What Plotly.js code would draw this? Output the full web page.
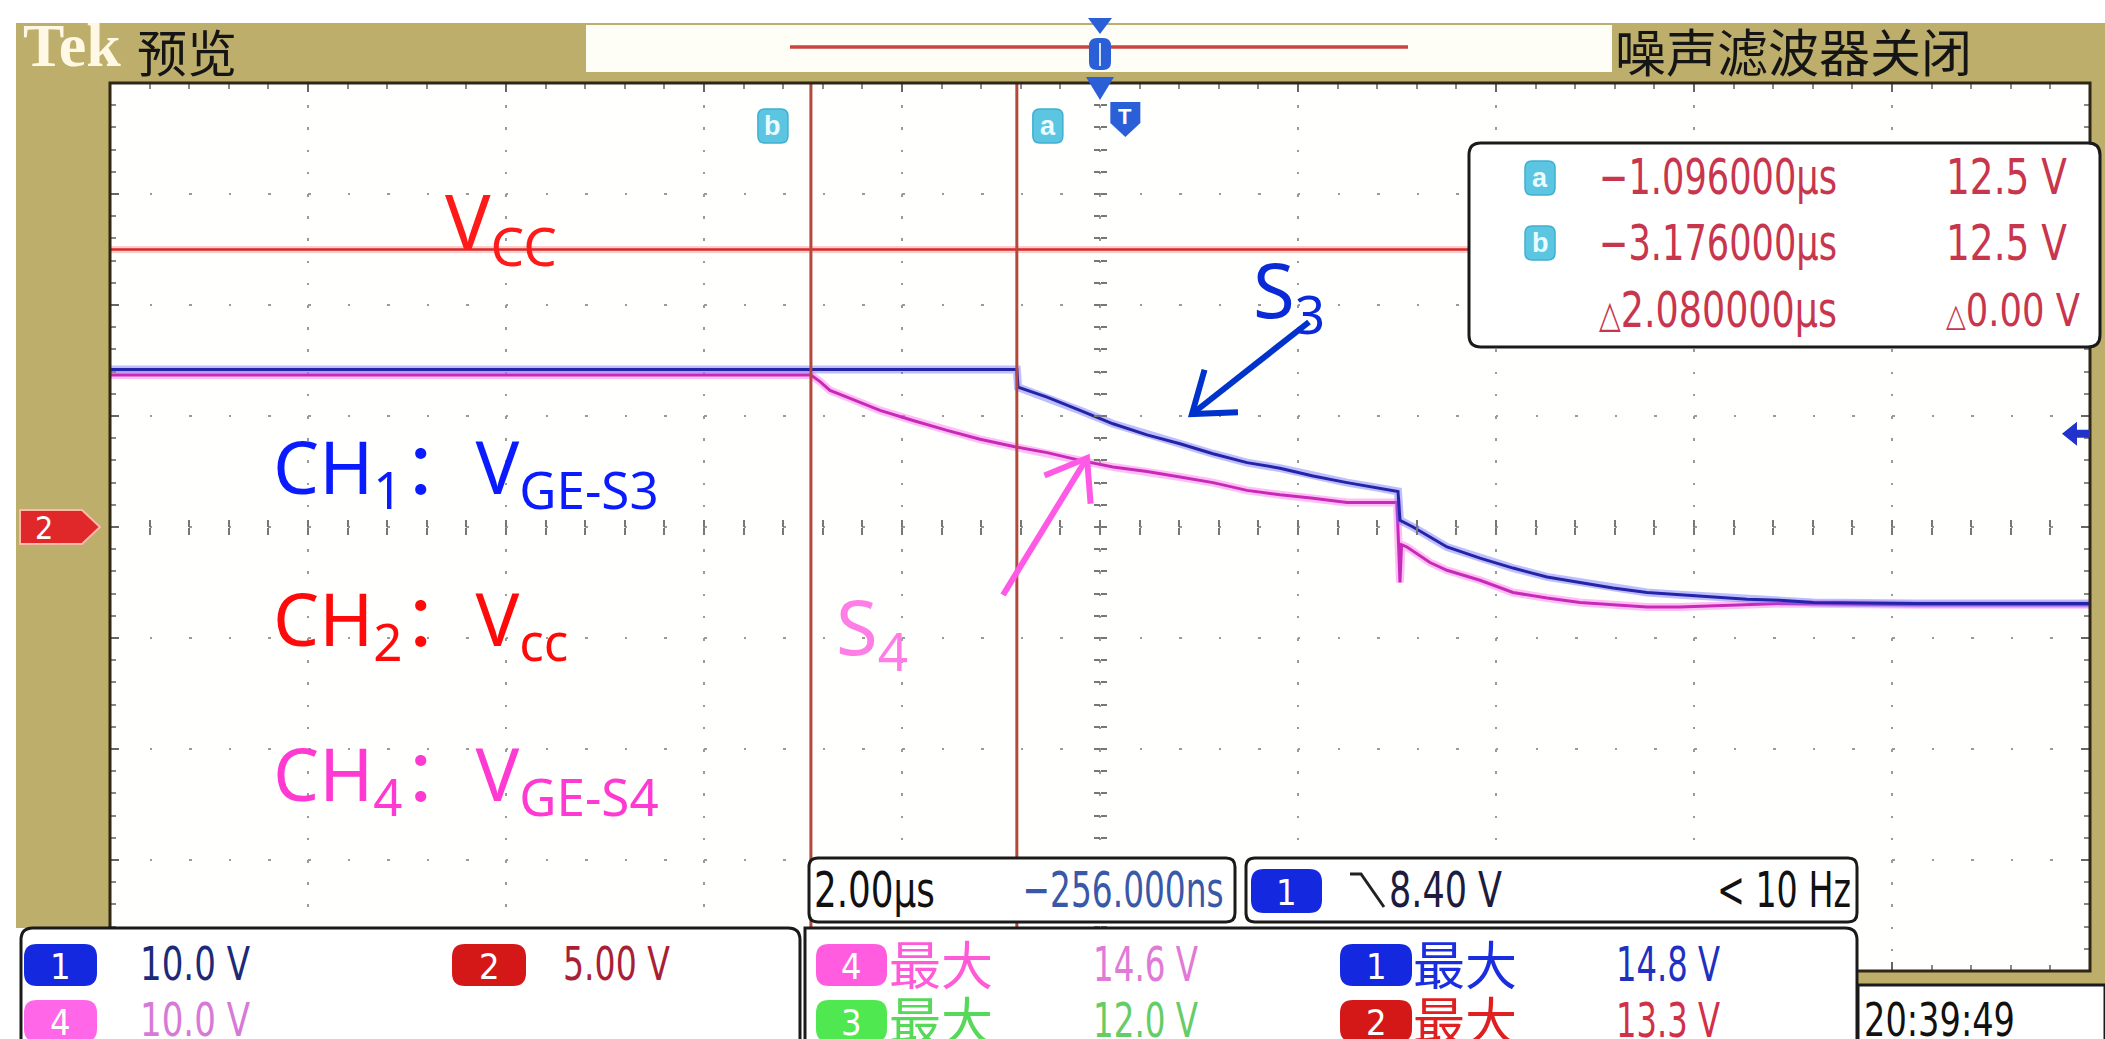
<!DOCTYPE html>
<html><head><meta charset="utf-8">
<script src="https://cdn.plot.ly/plotly-3.0.1.min.js"></script>
<style>html,body{margin:0;padding:0;background:#fff;overflow:hidden}#plot{width:2105px;height:1039px}</style>
</head><body><div id="plot"></div>
<script>
// ================= DATA =================
// time in microseconds, voltage in volts
const ch1Time  = [-10.256, -1.096, -1.084, -0.791, -0.458, -0.125, 0.219, 0.552, 0.885, 1.229, 1.562, 1.896, 2.239, 2.572, 2.754, 2.774, 2.906, 3.249, 3.582, 3.916, 4.259, 4.592, 4.926, 5.269, 5.602, 5.936, 6.279, 6.612, 6.950, 8.000, 9.744];
const ch1Volts = [14.2, 14.2, 12.6, 11.7, 10.5, 9.3, 8.3, 7.5, 6.6, 5.8, 5.3, 4.6, 4.0, 3.5, 3.2, 0.6, 0.0, -1.8, -2.8, -3.7, -4.5, -5.0, -5.5, -5.9, -6.1, -6.3, -6.5, -6.6, -6.8, -6.9, -6.9];

const ch4Time  = [-10.256, -3.176, -3.084, -2.983, -2.812, -2.478, -2.145, -1.801, -1.468, -1.105, -0.791, -0.458, -0.125, 0.219, 0.552, 0.885, 1.229, 1.562, 1.896, 2.239, 2.744, 2.774, 2.790, 2.845, 3.077, 3.249, 3.582, 3.916, 4.259, 4.592, 4.926, 5.269, 5.602, 6.612, 8.000, 9.744];
const ch4Volts = [13.7, 13.7, 13.1, 12.3, 11.7, 10.5, 9.6, 8.7, 7.9, 7.2, 6.7, 6.0, 5.4, 5.0, 4.5, 4.0, 3.3, 2.9, 2.6, 2.2, 2.2, -5.0, -1.6, -1.8, -3.2, -3.9, -4.8, -5.9, -6.4, -6.8, -7.0, -7.2, -7.2, -6.9, -7.0, -7.0];

const ch2Time  = [-10.256, 9.744];
const ch2Volts = [12.5, 12.5];

const voltsPerDiv = {ch1: 10.0, ch2: 5.00, ch4: 10.0};
const timePerDiv = 2.00;          // us
const horizPosition = -0.256;     // us (screen centre)
const cursorTimes = {a: -1.096, b: -3.176};
const triggerLevel = 8.40;        // V on CH1

const cursorRows = [
  {badge: 'a', time: '\u22121.096000\u00b5s', volt: '12.5 V'},
  {badge: 'b', time: '\u22123.176000\u00b5s', volt: '12.5 V'},
  {badge: '',  time: '2.080000\u00b5s', volt: '0.00 V', delta: true}
];
const chanScaleLabels = ['10.0 V', '5.00 V', '10.0 V'];
const measLabels = {m4: '14.6 V', m3: '12.0 V', m1: '14.8 V', m2: '13.3 V'};

// ================= LAYOUT GEOMETRY =================
const W = 2105, H = 1039;
const PL = 110, PR = 2090, PT = 83, PB = 971;
const X0 = horizPosition - 5*timePerDiv, X1 = horizPosition + 5*timePerDiv;
function px(x){ return (x - PL)/(PR - PL); }
function py(y){ return (PB - y)/(PB - PT); }
function P(x,y){ return px(x).toFixed(5)+','+py(y).toFixed(5); }
function tpx(t){ return PL + (t - X0)/(X1 - X0)*(PR - PL); }
function vpy(v, s){ return (PT+PB)/2 - v/s*(PB-PT)/8; }

function rrect(x0,y0,x1,y1,r){
  return `M${P(x0+r,y0)} L${P(x1-r,y0)} Q${P(x1,y0)} ${P(x1,y0+r)} L${P(x1,y1-r)} Q${P(x1,y1)} ${P(x1-r,y1)} L${P(x0+r,y1)} Q${P(x0,y1)} ${P(x0,y1-r)} L${P(x0,y0+r)} Q${P(x0,y0)} ${P(x0+r,y0)} Z`;
}
function poly(pts){ return 'M' + pts.map(p=>P(p[0],p[1])).join(' L') + ' Z'; }
function polyline(pts){ return 'M' + pts.map(p=>P(p[0],p[1])).join(' L'); }

const shapes = [];
function shp(path, fill, lc, lw, layer){
  shapes.push({type:'path', xref:'paper', yref:'paper', path:path, fillcolor:fill||'rgba(0,0,0,0)',
    line:{color:lc||'rgba(0,0,0,0)', width:lw||0}, layer:layer||'above'});
}
const annotations = [];
const narrow = {};
const NARROW = "'Liberation Sans Narrow', 'DejaVu Sans Condensed', 'Liberation Sans', sans-serif";
const CJK = "'Noto Sans CJK SC', sans-serif";
const SANS = "'Noto Sans', 'Noto Sans CJK SC', sans-serif";
function ann(text, x, y, size, color, family, xa, ya, extra){
  annotations.push(Object.assign({xref:'paper', yref:'paper', x:px(x), y:py(y), text:text, showarrow:false,
    xanchor:xa||'left', yanchor:ya||'middle', borderpad:0,
    font:{size:size, color:color, family:family||NARROW}}, extra||{}));
}
// condensed scope text: tw = target width in px
function nann(text, x, y, size, color, xa, tw){
  ann(text, x, y, size, color, NARROW, xa||'left');
  narrow[annotations.length-1] = {tw: tw, xa: xa||'left'};
}

// ---- cursor lines (under boxes) ----
['a','b'].forEach(k=>{
  shapes.push({type:'line', xref:'x', yref:'paper', x0:cursorTimes[k], x1:cursorTimes[k], y0:0, y1:1,
    line:{color:'#b5483c', width:3}, layer:'above'});
});

// ---- tan frame ----
const TAN = '#bdae6b';
shp(poly([[16,23],[2105,23],[2105,83],[16,83]]), TAN);
shp(poly([[16,83],[PL,83],[PL,928],[16,928]]), TAN);
shp(poly([[PR,83],[2105,83],[2105,985],[PR,985]]), TAN);
shp(poly([[1857,PB],[2105,PB],[2105,985],[1857,985]]), TAN);
shp(polyline([[PL,928],[PL,PT],[PR,PT],[PR,PB],[1857,PB]]), null, '#2e2716', 3);

// ---- header ----
shp(poly([[586,25],[1612,25],[1612,72],[586,72]]), '#fffef6');
shp(polyline([[790,47],[1408,47]]), null, '#c8443c', 3.5);
ann('<b>Tek</b>', 22, 45, 62, '#fff8e4', "'Liberation Serif', serif");
ann('预览', 136, 50, 50, '#151515', CJK);
ann('噪声滤波器关闭', 1614, 50, 51, '#151515', CJK);
const BLUEM = '#2a5fd8';
const cx = (PL+PR)/2;
shp(poly([[cx-12,18],[cx+12,18],[cx,34]]), BLUEM);
shp(rrect(cx-11,38,cx+11,70,8), BLUEM);
shp(polyline([[cx,43],[cx,66]]), null, '#cfe0ff', 2);
shp(poly([[cx-14,77],[cx+14,77],[cx,100]]), BLUEM);
const tx = tpx(0);
shp(poly([[tx-15,102],[tx+15,102],[tx+15,123],[tx,137],[tx-15,123]]), BLUEM);
ann('<b>T</b>', tx, 116, 22, '#ffffff', "'Liberation Sans', sans-serif", 'center');
function cbadge(letter, x, y){
  shp(rrect(x-15,y-17,x+15,y+17,7), '#5cc6e2', '#3fb0d0', 1.5);
  ann('<b>'+letter+'</b>', x, y, 27, '#eafcff', "'Liberation Sans', sans-serif", 'center');
}
cbadge('b', tpx(cursorTimes.b)-38, 126);
cbadge('a', tpx(cursorTimes.a)+31, 126);

// ---- CH2 ground marker ----
shp(poly([[20,510],[82,510],[100,527],[82,544],[20,544]]), '#e0282a', '#ffb8a8', 2);
ann('2', 44, 528, 32, '#ffffff', NARROW, 'center');
const ty = vpy(triggerLevel, voltsPerDiv.ch1);
shp(poly([[2062,ty],[2077,ty-12],[2077,ty-4],[PR,ty-4],[PR,ty+4],[2077,ty+4],[2077,ty+12]]), '#2233cc');

// ---- cursor readout box ----
shp(rrect(1469,143,2100,347,12), '#ffffff', '#1a1a1a', 3);
const rowY = [178, 243, 310];
cursorRows.forEach((r,i)=>{
  if (r.badge) cbadge(r.badge, 1540, rowY[i]);
  if (r.delta) {
    nann('<span style="font-size:38px">\u25b3</span>' + r.time, 1598, rowY[i], 49, '#c8364e', 'left', 238);
    nann('<span style="font-size:32px">\u25b3</span>' + r.volt, 1945, rowY[i], 44, '#c8364e', 'left', 134);
  } else {
    nann(r.time, 1598, rowY[i], 49, '#c8364e', 'left', 238);
    nann(r.volt, 1945, rowY[i], 49, '#c8364e', 'left', 121);
  }
});

// ---- bottom panels ----
function badge(num, x0, y0, x1, y1, fill){
  shp(rrect(x0,y0,x1,y1,13), fill);
  ann(num, (x0+x1)/2, (y0+y1)/2+1, 36, '#ffffff', NARROW, 'center');
}
shp(`M${P(21,1045)} L${P(21,940)} Q${P(21,928)} ${P(33,928)} L${P(788,928)} Q${P(800,928)} ${P(800,940)} L${P(800,1045)} Z`, '#ffffff', '#1a1a1a', 3);
badge('1', 24, 944, 97, 986, '#1428e0');
nann(chanScaleLabels[0], 139, 964, 46, '#1c2a78', 'left', 110);
badge('2', 452, 944, 526, 986, '#d41818');
nann(chanScaleLabels[1], 562, 964, 46, '#a82035', 'left', 107);
badge('4', 24, 1000, 97, 1042, '#ff66e8');
nann(chanScaleLabels[2], 139, 1020, 46, '#d77ad7', 'left', 110);
shp(rrect(809,858,1235,922,9), '#ffffff', '#1a1a1a', 3);
nann('2.00\u00b5s', 813, 890, 50, '#111111', 'left', 121);
nann('\u2212256.000ns', 1225, 890, 50, '#3a58a8', 'right', 201);
shp(rrect(1246,858,1857,922,9), '#ffffff', '#1a1a1a', 3);
badge('1', 1251, 869, 1322, 913, '#1428e0');
shp(polyline([[1350,874],[1361,874],[1384,907]]), null, '#222222', 3);
nann(triggerLevel.toFixed(2)+' V', 1388, 890, 50, '#1c1c40', 'left', 113);
nann('&lt; 10 Hz', 1852, 890, 50, '#111111', 'right', 134);
shp(`M${P(805,1045)} L${P(805,928)} L${P(1845,928)} Q${P(1857,928)} ${P(1857,940)} L${P(1857,1045)} Z`, '#ffffff', '#1a1a1a', 3);
badge('4', 816, 944, 887, 986, '#ff5ce0');
ann('最大', 888, 962, 52, '#ff5ad8', CJK);
nann(measLabels.m4, 1092, 964, 48, '#e07ad6', 'left', 105);
badge('1', 1340, 944, 1412, 986, '#1428e0');
ann('最大', 1412, 962, 52, '#1a2ee0', CJK);
nann(measLabels.m1, 1615, 964, 48, '#2030c0', 'left', 104);
badge('3', 816, 1000, 887, 1042, '#50e850');
ann('最大', 888, 1019, 52, '#58d858', CJK);
nann(measLabels.m3, 1092, 1020, 48, '#66cc66', 'left', 105);
badge('2', 1340, 1000, 1412, 1042, '#d41818');
ann('最大', 1412, 1019, 52, '#e02020', CJK);
nann(measLabels.m2, 1615, 1020, 48, '#d03048', 'left', 104);
shp(`M${P(1858,1045)} L${P(1858,985)} L${P(2105,985)} L${P(2105,1045)} Z`, '#ffffff', '#1a1a1a', 3);
nann('20:39:49', 1863, 1020, 46, '#111111', 'left', 151);

// ---- channel labels in the plot ----
ann('CH<sub>1</sub>：V<sub>GE-S3</sub>', 272, 470, 73, '#0a1cff', SANS);
ann('CH<sub>2</sub>：V<sub>cc</sub>', 272, 622, 73, '#ff0a0a', SANS);
ann('CH<sub>4</sub>：V<sub>GE-S4</sub>', 272, 777, 73, '#ff3ad2', SANS);
ann('V<sub>CC</sub>', 444, 226, 76, '#ff1a1a', SANS);
ann('S<sub>3</sub>', 1252, 293, 76, '#0a2ad8', SANS);
ann('S<sub>4</sub>', 835, 630, 76, '#ff7ee6', SANS);

function arrow(tail, tip, color){
  shp(polyline([tail, tip]), null, color, 6);
  const dx = tail[0]-tip[0], dy = tail[1]-tip[1], L = Math.hypot(dx,dy);
  const ux = dx/L, uy = dy/L, a = 36*Math.PI/180, len = 46;
  const r1 = [tip[0] + len*(ux*Math.cos(a) - uy*Math.sin(a)), tip[1] + len*(ux*Math.sin(a) + uy*Math.cos(a))];
  const r2 = [tip[0] + len*(ux*Math.cos(-a) - uy*Math.sin(-a)), tip[1] + len*(ux*Math.sin(-a) + uy*Math.cos(-a))];
  shp(polyline([r1, tip, r2]), null, color, 6);
}
arrow([1309,322], [1192,414], '#0033cc');
arrow([1003,595], [1087,458], '#ff5ae6');

// ================= TRACES =================
const traces = [];
function addChannel(t, v, scale, core, halo, wc, wh){
  const y = v.map(a => a/scale);
  traces.push({type:'scatter', mode:'lines', x:t, y:y, line:{color:halo, width:wh}, hoverinfo:'skip', showlegend:false});
  traces.push({type:'scatter', mode:'lines', x:t, y:y, line:{color:core, width:wc}, hoverinfo:'skip', showlegend:false});
}
addChannel(ch2Time, ch2Volts, voltsPerDiv.ch2, '#d42a2a', 'rgba(255,90,90,0.30)', 2.5, 7);
addChannel(ch4Time, ch4Volts, voltsPerDiv.ch4, '#c82ab8', 'rgba(255,110,235,0.45)', 3, 8);
addChannel(ch1Time, ch1Volts, voltsPerDiv.ch1, '#2424a8', 'rgba(110,110,255,0.45)', 3, 8);
traces.push({type:'scatter', x:[null], y:[null], xaxis:'x2', yaxis:'y2', showlegend:false, hoverinfo:'skip'});
traces.push({type:'scatter', x:[null], y:[null], xaxis:'x3', yaxis:'y3', showlegend:false, hoverinfo:'skip'});

const xDiv = (PR-PL)/10, yDiv = (PB-PT)/8;
const common = {showticklabels:false, zeroline:false, fixedrange:true};
const layout = {
  width: W, height: H, autosize: false,
  margin: {l: PL, r: W-PR, t: PT, b: H-PB, pad: 0},
  paper_bgcolor: '#ffffff', plot_bgcolor: '#fffffd',
  showlegend: false,
  xaxis: Object.assign({range:[X0, X1], tick0: horizPosition, dtick: timePerDiv, showgrid:true,
    gridcolor:'#9a9a9a', gridwidth:2.5, griddash: `2.5px,${(yDiv/5-2.5).toFixed(2)}px`,
    ticks:'inside', ticklen:9, tickwidth:2, tickcolor:'#666', mirror:'allticks', showline:false,
    minor:{dtick: timePerDiv/5, tick0: horizPosition, ticks:'inside', ticklen:6, tickwidth:2, tickcolor:'#888', showgrid:false}}, common),
  yaxis: Object.assign({range:[-4, 4], tick0:0, dtick:1, showgrid:true,
    gridcolor:'#9a9a9a', gridwidth:2.5, griddash: `2.5px,${(xDiv/5-2.5).toFixed(2)}px`,
    ticks:'inside', ticklen:9, tickwidth:2, tickcolor:'#666', mirror:'allticks', showline:false,
    minor:{dtick:0.2, ticks:'inside', ticklen:6, tickwidth:2, tickcolor:'#888', showgrid:false}}, common),
  xaxis2: Object.assign({overlaying:'x', anchor:'free', position:0.5, range:[X0, X1], tick0:horizPosition, dtick:timePerDiv/5,
    ticks:'inside', ticklen:7, tickwidth:2, tickcolor:'#777', showgrid:false, showline:false}, common),
  yaxis2: Object.assign({overlaying:'y', anchor:'free', position:0.5, range:[-4,4], dtick:0.2,
    ticks:'inside', ticklen:6, tickwidth:2, tickcolor:'#777', showgrid:false, showline:false}, common),
  xaxis3: Object.assign({overlaying:'x', anchor:'free', position:0.5, range:[X0, X1], tick0:horizPosition, dtick:timePerDiv/5,
    ticks:'outside', ticklen:7, tickwidth:2, tickcolor:'#777', showgrid:false, showline:false}, common),
  yaxis3: Object.assign({overlaying:'y', anchor:'free', position:0.5, side:'left', range:[-4,4], dtick:0.2,
    ticks:'outside', ticklen:6, tickwidth:2, tickcolor:'#777', showgrid:false, showline:false}, common),
  shapes: shapes,
  annotations: annotations
};
Plotly.newPlot('plot', traces, layout, {staticPlot:true, displayModeBar:false}).then(gd => {
  gd.querySelectorAll('g.annotation').forEach(g => {
    const i = +g.getAttribute('data-index');
    const s = narrow[i];
    if (!s) return;
    const t = g.querySelector('text.annotation-text');
    if (!t) return;
    const ob = t.getBBox();
    if (ob.width <= s.tw) return;
    t.setAttribute('textLength', s.tw);
    t.setAttribute('lengthAdjust', 'spacingAndGlyphs');
    const nb = t.getBBox();
    let dx;
    if (Math.abs(nb.width - ob.width) > 1) {
      dx = s.xa === 'left' ? ob.x - nb.x : (s.xa === 'right' ? (ob.x+ob.width) - (nb.x+nb.width) : 0);
    } else {
      dx = s.xa === 'left' ? (s.tw - ob.width)/2 : (s.xa === 'right' ? (ob.width - s.tw)/2 : 0);
    }
    const prev = t.getAttribute('transform') || '';
    t.setAttribute('transform', (prev + ' translate(' + dx.toFixed(2) + ',0)').trim());
  });
});
</script></body></html>
